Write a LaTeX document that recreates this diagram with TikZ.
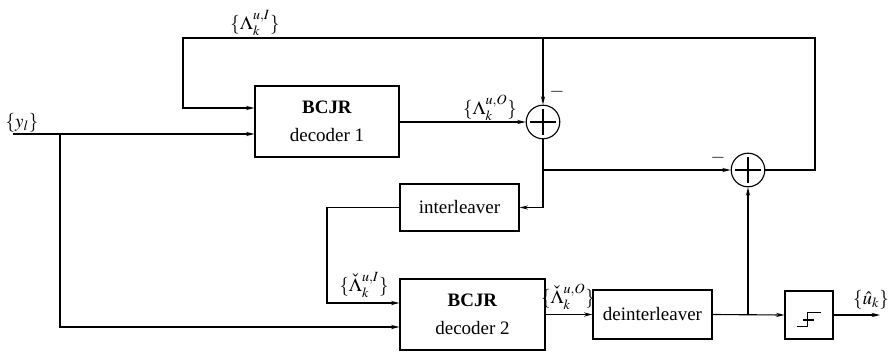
\documentclass[tikz,border=0pt]{standalone}
\usepackage{mathptmx}
\usepackage{fontspec}
\setmainfont{Liberation Serif}
\usetikzlibrary{arrows.meta}

\tikzset{
  blk/.style={draw, align=center, inner sep=0pt},
  adder/.style={draw, circle, minimum size=8.4mm, inner sep=0pt,
    path picture={
      \draw ([xshift=-3.3mm]path picture bounding box.center) -- ([xshift=3.3mm]path picture bounding box.center);
      \draw ([yshift=-3.3mm]path picture bounding box.center) -- ([yshift=3.3mm]path picture bounding box.center);
    }},
}

\begin{document}
\begin{tikzpicture}[x=0.25mm, y=-0.25mm, line width=0.8pt,
    >={Stealth[length=6pt,width=3pt]}, font=\fontsize{13.5}{20}\selectfont]
  \useasboundingbox (0,0) rectangle (892,354);
  % blocks
  \node[blk, minimum width=36mm, minimum height=17.75mm] (dec1) at (327,121.5) {\textbf{BCJR}\\decoder 1};
  \node[blk, minimum width=29.75mm, minimum height=11.75mm] (intl) at (459.5,207.5) {interleaver};
  \node[blk, minimum width=36.25mm, minimum height=17.75mm] (dec2) at (472.5,314.5) {\textbf{BCJR}\\decoder 2};
  \node[blk, minimum width=29.75mm, minimum height=12.25mm] (deint) at (652.5,314.5) {deinterleaver};
  \node[blk, minimum size=12mm] (lim) at (809,315) {};
  \draw ([shift={(-3mm,-2.9mm)}]lim.center) -- ++(2.67mm,0) -- ++(0,3.5mm) -- ++(3.33mm,0);
  \draw ([shift={(-1.5mm,-1.25mm)}]lim.center) -- ++(2.7mm,0);
  \node[adder] (add1) at (543,122) {};
  \node[adder] (add2) at (748,170) {};
  % labels
  \node (lamI) at (255,23) {$\{\Lambda_k^{u,I}\}$};
  \node (lamO) at (490,108) {$\{\Lambda_k^{u,O}\}$};
  \node (lamIc) at (364,285) {$\{\check{\Lambda}_k^{u,I}\}$};
  \node (lamOc) at (568,297) {$\{\check{\Lambda}_k^{u,O}\}$};
  \node (yl) at (22,123) {$\{y_l\}$};
  \node (uhat) at (871,300) {$\{\hat{u}_k\}$};
  \node (m1) at (557,92) {$-$};
  \node (m2) at (718,158) {$-$};
  % branch points
  \coordinate (yin) at (13,134);
  \coordinate (ysp) at (60,134);
  \coordinate (ybot) at (60,327);
  \coordinate (fbr) at (815,38);
  \coordinate (fbl) at (183,108);
  \coordinate (sp1) at (543,170);
  \coordinate (c2) at (327,303);
  \coordinate (sp2) at (748,315);
  \coordinate (uout) at (880,315);
  % connections
  \draw[->] (yin) -- (yin -| dec1.west);
  \draw[->] (ysp) -- (ybot) -- (ybot -| dec2.west);
  \draw[->] (add2.east) -| (fbr) -| (fbl) -- (fbl -| dec1.west);
  \draw[->] (add1 |- fbr) -- (add1.north);
  \draw[->] (dec1.east |- add1) -- (add1.west);
  \draw (add1.south) -- (sp1);
  \draw[->] (sp1) -- (add2.west);
  \draw[->] (sp1) |- (intl.east);
  \draw[->] (intl.west) -| (c2) -- (c2 -| dec2.west);
  \draw[->] (dec2.east) -- (deint.west);
  \draw[->] (deint.east) -- (lim.west);
  \draw[->] (sp2) -- (add2.south);
  \draw[->] (lim.east) -- (uout);
\end{tikzpicture}
\end{document}
